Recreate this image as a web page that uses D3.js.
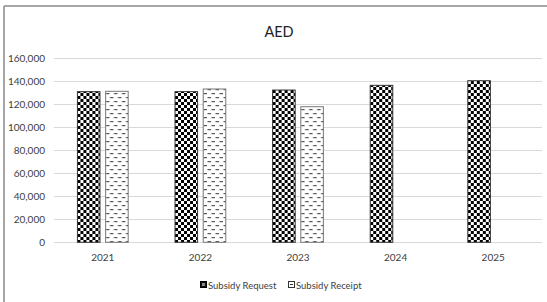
<!DOCTYPE html>
<html><head><meta charset="utf-8">
<script src="https://cdn.jsdelivr.net/npm/d3@7"></script>
<style>body{margin:0;background:#fff;} svg{display:block;}</style>
</head><body>
<svg id="c" width="547" height="302"></svg>
<script>
const title = "AED";
const years = ["2021","2022","2023","2024","2025"];
const seriesNames = ["Subsidy Request","Subsidy Receipt"];
const requestValues = [131000, 131000, 132400, 136500, 140500];
const receiptValues = [131300, 133300, 117900, null, null];
const yTicks = [0,20000,40000,60000,80000,100000,120000,140000,160000];

const svg = d3.select("#c");
const font = "Lato, 'Open Sans', sans-serif";
const defs = svg.append("defs");
const p1 = defs.append("pattern").attr("id","checker").attr("patternUnits","userSpaceOnUse")
  .attr("width",6).attr("height",6);
p1.append("rect").attr("width",6).attr("height",6).attr("fill","#fff");
p1.append("rect").attr("width",3).attr("height",3).attr("fill","#000");
p1.append("rect").attr("x",3).attr("y",3).attr("width",3).attr("height",3).attr("fill","#000");
const p2 = defs.append("pattern").attr("id","dash").attr("patternUnits","userSpaceOnUse")
  .attr("width",8).attr("height",8);
p2.append("rect").attr("width",8).attr("height",8).attr("fill","#fff");
p2.append("rect").attr("x",0.5).attr("y",1).attr("width",3.5).attr("height",1.2).attr("fill","#555");
p2.append("rect").attr("x",4.5).attr("y",5).attr("width",3.5).attr("height",1.2).attr("fill","#555");
const fills = ["url(#checker)","url(#dash)"];
const strokes = ["#333","#777"];

svg.append("rect").attr("width",547).attr("height",302).attr("fill","#fff");
// outer border (top and left visible)
svg.append("line").attr("x1",4).attr("x2",547).attr("y1",6).attr("y2",6).attr("stroke","#8a8a8a").attr("stroke-width",1.5);
svg.append("line").attr("x1",4).attr("x2",4).attr("y1",6).attr("y2",302).attr("stroke","#8a8a8a").attr("stroke-width",1.5);

const x0 = d3.scaleBand().domain(years).range([54,542]).paddingInner(0.48).paddingOuter(0.24);
const x1 = d3.scaleBand().domain(seriesNames).range([0,x0.bandwidth()]).paddingInner(0.2);
const y = d3.scaleLinear().domain([0,160000]).range([242.3,58.3]);

// gridlines
svg.append("g").selectAll("line").data(yTicks).join("line")
  .attr("x1",54).attr("x2",542).attr("y1",d=>Math.round(y(d))+0.5).attr("y2",d=>Math.round(y(d))+0.5)
  .attr("stroke","#d9d9d9").attr("stroke-width",1);

// y axis labels
const yAxis = d3.axisLeft(y).tickValues(yTicks).tickSize(0).tickPadding(0).tickFormat(d3.format(","));
const gy = svg.append("g").attr("transform","translate(45,0)").call(yAxis);
gy.select(".domain").remove();
gy.selectAll("text").attr("font-family",font).attr("font-size",10).attr("fill","#404040");

// x axis labels
const xAxis = d3.axisBottom(x0).tickSize(0).tickPadding(0);
const gx = svg.append("g").attr("transform","translate(0,254)").call(xAxis);
gx.select(".domain").remove();
gx.selectAll("text").attr("font-family",font).attr("font-size",10).attr("fill","#404040");

// bars
const data = years.map((yr,i)=>({year:yr, vals:[requestValues[i], receiptValues[i]]}));
const g = svg.append("g").selectAll("g").data(data).join("g")
  .attr("transform",d=>`translate(${x0(d.year)},0)`);
g.selectAll("rect").data(d=>d.vals.map((v,k)=>({k,v})).filter(e=>e.v!=null)).join("rect")
  .attr("x",e=>x1(seriesNames[e.k])).attr("width",x1.bandwidth())
  .attr("y",e=>y(e.v)).attr("height",e=>y(0)-y(e.v))
  .attr("fill",e=>fills[e.k]).attr("stroke",e=>strokes[e.k]).attr("stroke-width",1);

// title
svg.append("text").attr("x",279).attr("y",37).attr("text-anchor","middle")
  .attr("font-family",font).attr("font-size",14.5).attr("fill","#222").text(title);

// legend
const legX = [200, 288];
const lg = svg.append("g").selectAll("g").data(seriesNames).join("g")
  .attr("transform",(d,i)=>`translate(${legX[i]},281)`);
lg.append("rect").attr("x",0.5).attr("y",0.5).attr("width",6).attr("height",6)
  .attr("fill",(d,i)=>i===0?"#111":"#fff").attr("stroke",(d,i)=>i===0?"#000":"#333").attr("stroke-width",1);
lg.filter((d,i)=>i===0).append("rect").attr("x",2).attr("y",2).attr("width",3).attr("height",3).attr("fill","#888");
lg.filter((d,i)=>i===1).append("line").attr("x1",2).attr("x2",5).attr("y1",3.5).attr("y2",3.5).attr("stroke","#333");
lg.append("text").attr("x",8).attr("y",7.5).attr("font-family",font).attr("font-size",9.5).attr("fill","#404040").text(d=>d);
</script>
</body></html>
